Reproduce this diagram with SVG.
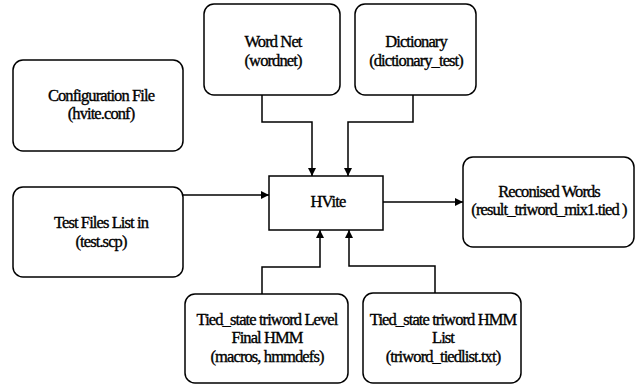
<svg xmlns="http://www.w3.org/2000/svg" width="638" height="385" viewBox="0 0 638 385">
<style>
.box{fill:#fff;stroke:#000;stroke-width:1.5}
.t{font-family:'Liberation Serif','Times New Roman',serif;font-size:16.5px;text-anchor:middle;fill:#000;stroke:#000;stroke-width:0.35;letter-spacing:-0.9px}
.c{fill:none;stroke:#000;stroke-width:1.5}
</style>
<defs>
<marker id="ah" viewBox="0 0 10 10" refX="10" refY="5" markerWidth="8" markerHeight="9" markerUnits="userSpaceOnUse" orient="auto">
<path d="M0,0 L10,5 L0,10 z" fill="#000"/>
</marker>
</defs>
<rect width="638" height="385" fill="#fff"/>
<g id="connectors">
<path class="c" d="M262,95 V122 H312 V176" marker-end="url(#ah)"/>
<path class="c" d="M413,95 V122 H348 V176" marker-end="url(#ah)"/>
<path class="c" d="M183,195 H269" marker-end="url(#ah)"/>
<path class="c" d="M383,202 H463" marker-end="url(#ah)"/>
<path class="c" d="M262,294 V267 H320 V230" marker-end="url(#ah)"/>
<path class="c" d="M435,293 V266 H349 V230" marker-end="url(#ah)"/>
</g>
<g id="config">
<rect class="box" x="13" y="60" width="170" height="91" rx="10"/>
<text class="t" x="101" y="101">Configuration File</text>
<text class="t" x="101" y="119">(hvite.conf)</text>
</g>
<g id="wordnet">
<rect class="box" x="204" y="4" width="136" height="91" rx="10"/>
<text class="t" x="273" y="47">Word Net</text>
<text class="t" x="273" y="66">(wordnet)</text>
</g>
<g id="dictionary">
<rect class="box" x="355" y="4" width="121" height="91" rx="10"/>
<text class="t" x="416" y="47">Dictionary</text>
<text class="t" x="416" y="66">(dictionary_test)</text>
</g>
<g id="hvite">
<rect class="box" x="269" y="176" width="114" height="54"/>
<text class="t" x="328" y="207">HVite</text>
</g>
<g id="testfiles">
<rect class="box" x="13" y="187" width="170" height="90" rx="10"/>
<text class="t" x="101" y="228">Test Files List in</text>
<text class="t" x="101" y="247">(test.scp)</text>
</g>
<g id="reconised">
<rect class="box" x="463" y="157" width="171" height="90" rx="10"/>
<text class="t" x="549" y="197">Reconised Words</text>
<text class="t" x="549" y="215">(result_triword_mix1.tied )</text>
</g>
<g id="tiedlevel">
<rect class="box" x="185" y="294" width="163" height="89" rx="10"/>
<text class="t" x="267" y="325">Tied_state triword Level</text>
<text class="t" x="267" y="343">Final HMM</text>
<text class="t" x="267" y="362">(macros, hmmdefs)</text>
</g>
<g id="tiedlist">
<rect class="box" x="363" y="293" width="158" height="90" rx="10"/>
<text class="t" x="443" y="325">Tied_state triword HMM</text>
<text class="t" x="443" y="343">List</text>
<text class="t" x="443" y="362">(triword_tiedlist.txt)</text>
</g>
</svg>
